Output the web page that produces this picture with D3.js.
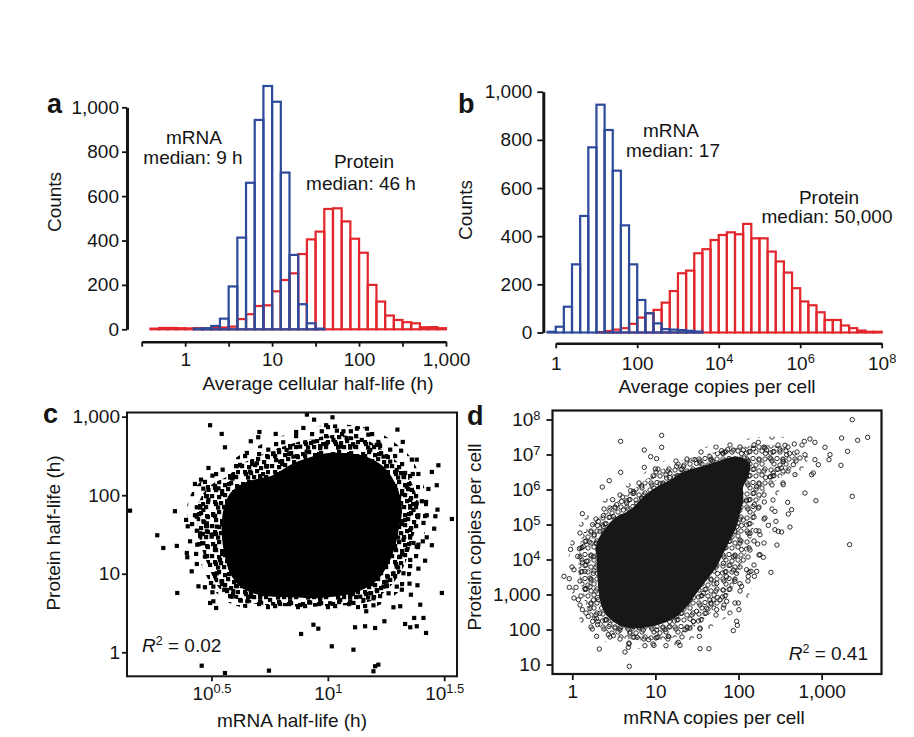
<!DOCTYPE html>
<html>
<head>
<meta charset="utf-8">
<script src="https://cdn.jsdelivr.net/npm/d3@7"></script>
<style>
body { margin: 0; background: #fff; }
</style>
</head>
<body>
<div id="fig"></div>
<script>
// ---- panel a: half-life histograms (bin lower edges in log10 h, width 0.1) ----
var aMrnaEdges = [0.1,0.2,0.3,0.4,0.5,0.6,0.7,0.8,0.9,1.0,1.1,1.2,1.3,1.4,1.5];
var aMrnaCounts = [3,5,15,48,193,413,660,943,1096,1025,706,335,113,27,3];
var aProteinEdges = [-0.4,-0.3,-0.2,-0.1,0,0.1,0.2,0.3,0.4,0.5,0.6,0.7,0.8,0.9,1.0,1.1,1.2,1.3,1.4,1.5,1.6,1.7,1.8,1.9,2.0,2.1,2.2,2.3,2.4,2.5,2.6,2.7,2.8,2.9];
var aProteinCounts = [3,6,6,5,4,5,4,6,8,12,46,68,105,108,171,222,252,339,405,440,542,545,486,408,345,200,125,62,42,32,27,9,10,5];
var aBinWidth = 0.1;

// ---- panel b: copies per cell histograms (bin lower edges in log10, width 0.2) ----
var bMrnaEdges = [-0.2,0,0.2,0.4,0.6,0.8,1.0,1.2,1.4,1.6,1.8,2.0,2.2,2.4,2.6,2.8,3.0,3.2,3.4];
var bMrnaCounts = [3,24,107,283,484,769,946,841,672,445,283,135,80,38,14,12,10,7,4];
var bProteinEdges = [1.0,1.2,1.4,1.6,1.8,2.0,2.2,2.4,2.6,2.8,3.0,3.2,3.4,3.6,3.8,4.0,4.2,4.4,4.6,4.8,5.0,5.2,5.4,5.6,5.8,6.0,6.2,6.4,6.6,6.8,7.0,7.2,7.4,7.6,7.8];
var bProteinCounts = [2,6,12,18,36,62,80,94,124,172,246,257,329,346,384,405,416,408,451,391,391,336,295,249,184,129,113,84,52,52,29,18,8,3,3];
var bBinWidth = 0.2;

// ---- tick labels ----
var countTicks = [0,200,400,600,800,1000];
var aXTickExp = [-0.5,0,0.5,1,1.5,2,2.5,3];
var aXTickLabels = ["","1","","10","","100","","1,000"];
var bXTickExp = [0,2,4,6,8];
var bXTickLabels = [["1",""],["100",""],["10","4"],["10","6"],["10","8"]];
var cYTickExp = [0,1,2,3];
var cYTickLabels = ["1","10","100","1,000"];
var cXTickExp = [0.5,1,1.5];
var cXTickLabels = [["10","0.5"],["10","1"],["10","1.5"]];
var dYTickExp = [1,2,3,4,5,6,7,8];
var dYTickLabels = [["10",""],["100",""],["1,000",""],["10","4"],["10","5"],["10","6"],["10","7"],["10","8"]];
var dXTickExp = [0,1,2,3];
var dXTickLabels = ["1","10","100","1,000"];

// ---- panel c: log10 mRNA half-life vs log10 protein half-life ----
// outlines of the sparse zone, the crowded zone and the solid core
var cOuter = [[0.394,1.812],[0.422,2.067],[0.480,2.236],[0.551,2.364],[0.623,2.512],[0.709,2.640],[0.795,2.746],[0.895,2.831],[0.995,2.894],[1.096,2.894],[1.196,2.831],[1.282,2.682],[1.354,2.491],[1.397,2.236],[1.425,1.982],[1.433,1.727],[1.411,1.472],[1.390,1.218],[1.361,1.006],[1.318,0.815],[1.261,0.666],[1.182,0.560],[1.053,0.530],[0.909,0.517],[0.766,0.530],[0.651,0.560],[0.580,0.624],[0.523,0.751],[0.480,0.963],[0.444,1.218],[0.415,1.515]];
var cHalo = [[0.437,1.812],[0.465,2.024],[0.508,2.152],[0.566,2.236],[0.623,2.385],[0.695,2.491],[0.766,2.576],[0.852,2.661],[0.938,2.725],[1.024,2.767],[1.110,2.746],[1.182,2.682],[1.253,2.534],[1.311,2.385],[1.354,2.194],[1.382,1.982],[1.390,1.770],[1.375,1.557],[1.354,1.345],[1.332,1.133],[1.296,0.942],[1.253,0.793],[1.196,0.666],[1.124,0.615],[1.024,0.590],[0.909,0.581],[0.795,0.590],[0.695,0.615],[0.623,0.666],[0.566,0.730],[0.523,0.857],[0.494,1.048],[0.465,1.260],[0.444,1.515]];
var cCore = [[0.551,1.812],[0.580,2.024],[0.637,2.152],[0.709,2.215],[0.766,2.258],[0.838,2.385],[0.909,2.470],[0.995,2.534],[1.081,2.534],[1.167,2.491],[1.239,2.364],[1.282,2.194],[1.311,1.982],[1.318,1.770],[1.304,1.557],[1.289,1.345],[1.261,1.133],[1.225,0.963],[1.175,0.836],[1.110,0.751],[1.024,0.708],[0.938,0.687],[0.852,0.700],[0.766,0.708],[0.680,0.751],[0.623,0.836],[0.580,1.006],[0.558,1.218],[0.544,1.515]];
var cPoints = [
[0.494,2.891],[0.544,2.780],[0.558,2.610],[0.706,2.805],[0.701,2.738],[0.776,2.780],[0.669,2.687],[0.808,2.674],[0.744,2.580],[0.790,2.572],
[0.652,2.538],[0.487,2.347],[0.548,2.325],[0.590,2.211],[0.504,2.249],[0.429,2.143],[0.455,2.198],[0.472,2.169],[0.465,2.083],[0.515,2.092],
[0.343,1.796],[0.150,1.803],[0.437,1.846],[0.429,1.745],[0.391,1.685],[0.398,1.604],[0.267,1.490],[0.293,1.328],[0.351,1.354],[0.408,1.413],
[0.439,1.370],[0.394,1.264],[0.396,1.210],[0.434,1.252],[0.437,1.124],[0.415,1.031],[0.353,0.755],[0.444,0.840],[0.472,0.828],[0.498,0.882],
[0.504,0.764],[0.544,0.904],[0.555,0.797],[0.508,0.649],[0.494,0.628],[0.520,0.564],[0.458,-0.171],[0.558,-0.264],[0.747,-0.234],[0.626,0.657],
[0.654,0.649],[0.594,0.777],[0.465,1.668],[0.477,1.625],[0.437,1.548],[0.458,1.506],[0.480,1.541],[0.501,1.498],
[0.910,3.026],[0.941,2.962],[1.020,2.992],[0.993,2.891],[0.864,2.805],[0.895,2.856],[0.974,2.814],[1.039,2.822],[1.067,2.814],[1.099,2.814],
[1.125,2.847],[1.168,2.847],[1.174,2.771],[1.299,2.835],[1.217,2.678],[1.222,2.644],[1.322,2.678],[1.268,2.580],[1.315,2.567],[1.361,2.453],
[1.382,2.453],[1.475,2.381],[1.447,2.296],[1.332,2.283],[1.365,2.270],[1.389,2.270],[1.432,2.079],[1.468,2.127],[1.404,1.923],[1.422,1.914],
[1.471,1.816],[1.533,1.697],[1.462,1.732],[1.425,1.745],[1.389,1.745],[1.411,1.647],[1.457,1.574],[1.425,1.464],[1.408,1.413],[1.447,1.363],
[1.368,1.392],[1.389,1.370],[1.418,1.166],[1.389,1.065],[1.490,0.755],[1.385,0.853],[1.351,0.874],[1.357,0.733],[1.318,0.797],[1.397,0.606],
[1.282,0.573],[1.311,0.586],[1.165,0.522],[1.196,0.598],[1.110,0.628],[1.411,0.437],[1.371,0.437],[1.332,0.360],[1.354,0.318],[1.382,0.331],
[1.422,0.246],[1.243,0.395],[1.203,0.309],[1.160,0.331],[1.117,0.318],[0.938,0.351],[0.959,0.301],[0.885,0.233],[1.017,0.076],[1.110,0.033],
[1.203,-0.178],[1.217,-0.158],[1.196,-0.242],
[0.465,1.812],[0.487,1.939],[0.508,1.748],[0.480,1.642],[0.523,1.600],[0.501,1.472],[0.465,1.388],[0.515,1.303],[0.537,1.175],[0.494,1.112],
[0.523,1.006],[0.544,0.899],[0.566,0.793],[0.587,0.708],[0.508,0.836],[0.472,1.218],[0.451,1.515],[0.487,2.067],[0.530,2.088],[0.437,1.727],
[0.594,2.236],[0.623,2.385],[0.666,2.300],[0.695,2.406],[0.737,2.364],[0.766,2.534],[0.795,2.427],[0.823,2.576],[0.852,2.491],[0.881,2.618],
[0.909,2.555],[0.938,2.682],[0.967,2.597],[0.995,2.661],[1.024,2.703],[1.053,2.618],[1.081,2.725],[1.117,2.618],[1.146,2.703],[1.182,2.576],
[1.210,2.640],[1.239,2.491],[1.268,2.427],[1.296,2.321],[1.325,2.236],
[1.339,2.109],[1.354,1.939],[1.368,1.812],[1.332,1.685],[1.354,1.557],[1.325,1.430],[1.339,1.303],[1.311,1.218],[1.296,1.090],[1.282,1.006],
[1.253,0.899],[1.361,2.067],[1.382,1.897],
[0.623,0.666],[0.666,0.708],[0.709,0.645],[0.752,0.666],[0.795,0.615],[0.838,0.645],[0.881,0.602],[0.924,0.632],[0.967,0.666],[1.010,0.624],
[1.053,0.666],[1.096,0.645],[1.139,0.708],[1.182,0.751],[1.210,0.793],[1.239,0.836],[1.268,0.921],[1.153,0.666],[1.196,0.687],[1.261,0.751],
[1.296,0.836],[1.325,1.006],[1.354,1.175],[1.382,1.345]
];

// ---- panel d: log10 mRNA copies vs log10 protein copies ----
var dOuter = [[0.012,4.747],[0.133,5.128],[0.333,5.605],[0.574,5.986],[0.774,6.319],[0.975,6.652],[1.175,6.890],[1.416,7.081],[1.696,7.271],[2.017,7.414],[2.338,7.509],[2.619,7.462],[2.819,7.224],[2.819,6.747],[2.659,6.367],[2.498,5.986],[2.418,5.414],[2.378,4.843],[2.338,4.367],[2.258,3.795],[2.178,3.319],[2.097,2.843],[1.937,2.462],[1.737,2.176],[1.576,1.890],[1.416,1.700],[1.175,1.509],[0.935,1.462],[0.694,1.462],[0.453,1.605],[0.293,1.795],[0.133,2.081],[0.053,2.557],[-0.008,3.129],[-0.048,3.795],[-0.028,4.367]];
var dHalo = [[0.133,4.747],[0.253,5.033],[0.413,5.414],[0.614,5.795],[0.774,6.081],[0.935,6.367],[1.135,6.652],[1.336,6.843],[1.576,6.986],[1.817,7.128],[2.057,7.224],[2.298,7.271],[2.538,7.224],[2.699,7.033],[2.659,6.652],[2.458,6.271],[2.298,5.890],[2.218,5.414],[2.178,4.938],[2.138,4.462],[2.057,3.986],[1.977,3.509],[1.897,3.033],[1.737,2.652],[1.576,2.271],[1.416,1.986],[1.255,1.795],[1.015,1.700],[0.774,1.700],[0.534,1.795],[0.373,1.986],[0.253,2.271],[0.173,2.652],[0.113,3.224],[0.073,3.795],[0.093,4.367]];
var dCore = [[0.293,4.462],[0.413,4.938],[0.534,5.224],[0.694,5.414],[0.854,5.795],[1.015,6.081],[1.175,6.271],[1.336,6.509],[1.536,6.652],[1.737,6.795],[1.937,6.938],[2.057,6.890],[2.138,6.747],[2.117,6.367],[2.057,6.081],[2.057,5.700],[2.017,5.319],[1.977,4.938],[1.897,4.557],[1.817,4.176],[1.737,3.795],[1.616,3.414],[1.496,3.033],[1.376,2.652],[1.255,2.367],[1.095,2.176],[0.935,2.081],[0.774,2.033],[0.614,2.081],[0.494,2.224],[0.393,2.462],[0.333,2.843],[0.305,3.414],[0.293,3.986]];
var dPoints = [
[1.075,7.547],[0.582,7.376],[1.075,7.205],[0.866,7.128],[0.943,6.938],[1.015,6.881],[0.866,6.633],[0.999,6.586],[1.007,6.500],[0.582,6.490],
[1.255,6.662],[0.445,6.252],[0.361,6.071],[0.606,5.786],[0.702,5.967],[0.834,6.100],[0.486,5.709],[0.121,5.309],[0.245,4.995],[0.313,5.090],
[0.373,5.252],[-0.020,4.290],[0.085,4.309],[0.133,4.376],[0.205,4.500],[0.065,4.090],[0.121,3.919],[-0.100,3.519],[-0.036,3.452],[0.020,3.709],
[0.045,3.205],[-0.036,3.205],[0.153,3.167],[0.213,3.471],[0.020,2.900],[0.073,2.852],[0.121,2.567],[0.213,2.595],[0.193,2.376],[0.245,2.233],
[0.293,2.309],[0.241,2.014],[0.305,2.138],[0.293,1.805],[0.325,1.443],[0.433,1.852],[0.494,1.824],[0.634,1.357],[0.682,1.614],[0.674,1.490],
[0.686,0.947],[0.874,1.538],[0.983,1.547],[1.127,1.538],[0.919,1.709],[1.007,1.757],[1.275,1.633],[1.296,1.547],[1.155,1.805],[1.356,1.995],
[1.416,2.043],[1.536,2.043],[1.528,1.805],[1.536,1.452],[1.644,1.452],[1.115,1.995],[0.782,1.776],[0.726,2.043],[0.574,2.043],[0.453,2.138],
[0.353,2.614],[0.313,2.852],[0.153,3.662],[0.173,3.947],[0.265,4.709],[0.333,4.805],[0.453,5.471],[0.534,5.567],[0.654,5.614],[0.734,5.947],
[0.834,5.757],[1.135,6.328],[1.255,6.138],[1.336,6.471],[1.476,6.852],[1.536,6.757],[1.688,6.805],[1.616,2.614],[1.737,2.567],[1.696,2.852],
[1.496,2.519],[1.456,2.233],
[3.368,7.995],[3.240,7.471],[3.433,7.405],[3.553,7.490],[3.312,7.090],[3.232,6.690],[3.368,5.805],[3.336,4.424],[2.799,5.900],[2.931,5.681],
[2.671,7.300],[2.791,7.376],[2.859,7.443],[2.919,7.347],[3.040,7.205],[3.100,6.995],[3.088,6.852],[2.919,6.852],[2.960,6.709],[2.899,6.471],
[2.879,6.424],[2.799,6.995],[2.739,6.900],[2.659,6.709],[2.679,6.424],[2.559,7.262],[2.579,6.995],[2.518,6.614],[2.538,6.138],[2.378,6.900],
[2.418,6.471],[2.238,7.347],[2.318,7.186],[1.797,7.109],[1.869,7.138],[2.069,6.900],[2.117,6.805],[2.591,5.633],[2.639,5.424],[2.599,5.300],
[2.450,5.090],[2.518,4.786],[2.619,4.928],[2.462,4.414],[2.230,4.443],[2.258,4.138],[2.298,4.062],[2.390,3.633],[2.097,3.709],[2.150,3.662],
[2.218,3.662],[2.117,3.519],[2.190,3.519],[1.997,2.757],[2.005,2.567],[1.977,2.233],[1.985,2.119],[1.937,1.967],[1.857,2.805],[1.817,2.614],
[1.777,2.852],[1.957,3.376],[2.017,3.309],[2.037,3.233],[2.358,4.976],[2.318,5.186],[2.438,5.376],[2.438,4.852],[2.478,4.805],[2.210,4.824],
[2.258,4.709],[2.190,5.567],[2.238,5.471],[2.310,5.643],
[1.576,4.557],[1.656,4.271],[1.737,4.557],[1.817,4.367],[1.897,4.652],[1.977,4.938],[2.057,5.128],[2.017,4.557],[1.937,4.081],[1.817,3.890],
[1.696,3.795],[1.616,3.509],[1.737,3.319],[1.857,3.509],[1.576,3.033],[1.656,2.843],[1.496,3.224],[1.817,3.128],[1.937,3.700],[2.138,4.747],
[2.138,4.271],[2.057,3.986],[1.977,3.605],[1.336,2.652],[1.416,2.843],[1.255,2.367],[1.175,2.081],[1.015,1.986],[0.854,1.986],[0.694,1.890],
[0.574,1.986],[0.413,2.271],[0.333,2.462],[0.253,2.843],[0.213,3.224],[0.253,3.605],[0.253,4.081],[0.293,4.462],[0.373,4.938],[0.494,5.224],
[0.614,5.414],[0.774,5.605],[0.935,5.986],[1.055,6.176],[1.175,6.462],[1.336,6.652],[1.496,6.747],[1.656,6.938],[1.817,7.033],[1.937,7.128],
[2.057,7.128],[2.178,7.176],[2.338,7.128],[2.497,7.128],[2.538,6.795],[2.378,6.367],[2.218,6.081],[2.097,5.700],[2.017,5.414]
];

var FONT = "'Liberation Sans', Arial, Helvetica, sans-serif";
var BLUE = "#2d4a9b";
var RED = "#e2262c";
var INK = "#141414";
var FS = 19;

var svg = d3.select("#fig").append("svg")
  .attr("width", 914)
  .attr("height", 737)
  .style("font-family", FONT);

// speckle textures for the crowded zones of the two scatter plots
var defs = svg.append("defs");
function squarePattern(id, spots) {
  var p = defs.append("pattern").attr("id", id)
    .attr("patternUnits", "userSpaceOnUse").attr("width", 30).attr("height", 30);
  spots.forEach(function(s) {
    p.append("rect").attr("x", s[0]).attr("y", s[1]).attr("width", 4.2).attr("height", 4.2).attr("fill", "#000");
  });
}
function circlePattern(id, spots) {
  var p = defs.append("pattern").attr("id", id)
    .attr("patternUnits", "userSpaceOnUse").attr("width", 24).attr("height", 24);
  spots.forEach(function(s) {
    p.append("circle").attr("cx", s[0]).attr("cy", s[1]).attr("r", 2.2)
      .attr("fill", "none").attr("stroke", "#181818").attr("stroke-width", 0.9);
  });
}
squarePattern("sqDense", [[1,2],[7,0],[13,3],[19,1],[25,4],[4,8],[10,9],[16,7],[22,10],[0,14],[7,15],[13,13],[19,16],[25,14],[3,20],[9,21],[15,19],[21,22],[26,20],[6,25.5],[12,25],[18,25.5],[24,25]]);
squarePattern("sqSparse", [[3,4],[17,2],[10,12],[24,14],[4,22],[18,24],[26,5]]);
circlePattern("ciDense", [[3,3],[9,2.5],[15,4],[21,3],[6,8],[12,9],[18,8],[3,14],[9,13.5],[15,15],[21,13],[6,19.5],[12,20],[18,19],[21.5,21.5],[2.5,21]]);
circlePattern("ciSparse", [[4,5],[15,3],[10,13],[20,15],[5,20]]);

function pow10(v) { return Math.pow(10, v); }

function styleAxis(g, domainWidth) {
  g.attr("font-family", FONT).attr("font-size", FS);
  g.select(".domain").attr("stroke", INK).attr("stroke-width", domainWidth);
  g.selectAll(".tick line").attr("stroke", INK).attr("stroke-width", 1.8);
  g.selectAll(".tick text").attr("fill", INK);
}

// labels with optional superscript
function supLabels(g, labels) {
  g.selectAll(".tick text").each(function(d, i) {
    var t = d3.select(this);
    var lab = labels[i];
    t.text(null);
    t.append("tspan").text(lab[0]);
    if (lab[1]) {
      t.append("tspan").attr("dy", "-0.5em").attr("font-size", "0.68em").text(lab[1]);
    }
  });
}

function drawHist(edges, counts, binW, x, y, color) {
  svg.append("g").selectAll("rect")
    .data(counts)
    .enter()
    .append("rect")
    .attr("x", function(d, i) { return x(pow10(edges[i])); })
    .attr("width", function(d, i) { return x(pow10(edges[i] + binW)) - x(pow10(edges[i])); })
    .attr("y", function(d) { return y(d); })
    .attr("height", function(d) { return y(0) - y(d); })
    .attr("fill", "none")
    .attr("stroke", color)
    .attr("stroke-width", 2.2);
}

function blob(outline, x, y, fill) {
  svg.append("path")
    .datum(outline)
    .attr("d", d3.line()
      .x(function(d) { return x(pow10(d[0])); })
      .y(function(d) { return y(pow10(d[1])); })
      .curve(d3.curveCatmullRomClosed.alpha(0.5)))
    .attr("fill", fill);
}

function addText(x, y, str, anchor, size, weight) {
  return svg.append("text")
    .attr("x", x).attr("y", y)
    .attr("text-anchor", anchor || "middle")
    .attr("font-size", size || FS)
    .attr("font-weight", weight || "normal")
    .attr("fill", INK)
    .text(str);
}

function yTitle(x, y, str) {
  svg.append("text")
    .attr("transform", "translate(" + x + "," + y + ")rotate(-90)")
    .attr("text-anchor", "middle")
    .attr("font-size", FS)
    .attr("fill", INK)
    .text(str);
}

// ================= panel a =================
var xA = d3.scaleLog().domain([pow10(-0.5), 1000]).range([141.7, 446]);
var yA = d3.scaleLinear().domain([0, 1000]).range([329.3, 107.3]);

drawHist(aProteinEdges, aProteinCounts, aBinWidth, xA, yA, RED);
drawHist(aMrnaEdges, aMrnaCounts, aBinWidth, xA, yA, BLUE);

var gAy = svg.append("g").attr("transform", "translate(127,0)")
  .call(d3.axisLeft(yA).tickValues(countTicks).tickSize(5).tickSizeOuter(0).tickPadding(3).tickFormat(d3.format(",")));
styleAxis(gAy, 3);
var gAx = svg.append("g").attr("transform", "translate(0,341.7)")
  .call(d3.axisBottom(xA).tickValues(aXTickExp.map(pow10)).tickSize(5).tickSizeOuter(0).tickPadding(6)
    .tickFormat(function(d, i) { return aXTickLabels[i]; }));
styleAxis(gAx, 2.6);

addText(47, 113, "a", "start", 27, "bold");
yTitle(61, 202, "Counts");
addText(318, 390, "Average cellular half-life (h)");
addText(194, 144, "mRNA");
addText(193, 164, "median: 9 h");
addText(364, 168, "Protein");
addText(361, 190, "median: 46 h");

// ================= panel b =================
var xB = d3.scaleLog().domain([1, 1e8]).range([555.7, 881.7]);
var yB = d3.scaleLinear().domain([0, 1000]).range([332.5, 91.7]);

drawHist(bProteinEdges, bProteinCounts, bBinWidth, xB, yB, RED);
drawHist(bMrnaEdges, bMrnaCounts, bBinWidth, xB, yB, BLUE);

var gBy = svg.append("g").attr("transform", "translate(543.3,0)")
  .call(d3.axisLeft(yB).tickValues(countTicks).tickSize(6).tickSizeOuter(0).tickPadding(5).tickFormat(d3.format(",")));
styleAxis(gBy, 3);
var gBx = svg.append("g").attr("transform", "translate(0,343.3)")
  .call(d3.axisBottom(xB).tickValues(bXTickExp.map(pow10)).tickSize(5).tickSizeOuter(0).tickPadding(8));
styleAxis(gBx, 2.6);
supLabels(gBx, bXTickLabels);

addText(458, 113, "b", "start", 27, "bold");
yTitle(472, 210, "Counts");
addText(717, 393, "Average copies per cell");
addText(671, 137, "mRNA");
addText(673, 157, "median: 17");
addText(829, 204, "Protein");
addText(827, 223, "median: 50,000");

// ================= panel c =================
var xC = d3.scaleLog().domain([pow10(0.137), pow10(1.555)]).range([127, 457]);
var yC = d3.scaleLog().domain([pow10(-0.306), pow10(3.053)]).range([676.3, 412.5]);

blob(cOuter, xC, yC, "url(#sqSparse)");
blob(cHalo, xC, yC, "url(#sqDense)");
blob(cCore, xC, yC, "#000");

svg.append("g").selectAll("rect")
  .data(cPoints)
  .enter()
  .append("rect")
  .attr("x", function(d) { return xC(pow10(d[0])) - 2.1; })
  .attr("y", function(d) { return yC(pow10(d[1])) - 2.1; })
  .attr("width", 4.2)
  .attr("height", 4.2)
  .attr("fill", "#000");

svg.append("rect")
  .attr("x", 127).attr("y", 412.5)
  .attr("width", 330).attr("height", 263.8)
  .attr("fill", "none").attr("stroke", INK).attr("stroke-width", 2);

var gCy = svg.append("g").attr("transform", "translate(127,0)")
  .call(d3.axisLeft(yC).tickValues(cYTickExp.map(pow10)).tickSize(5).tickPadding(2)
    .tickFormat(function(d, i) { return cYTickLabels[i]; }));
styleAxis(gCy, 0);
gCy.select(".domain").remove();
var gCx = svg.append("g").attr("transform", "translate(0,676.3)")
  .call(d3.axisBottom(xC).tickValues(cXTickExp.map(pow10)).tickSize(5).tickPadding(5));
styleAxis(gCx, 0);
gCx.select(".domain").remove();
supLabels(gCx, cXTickLabels);

addText(43, 423, "c", "start", 27, "bold");
yTitle(60, 533, "Protein half-life (h)");
addText(292, 727, "mRNA half-life (h)");
var rc = svg.append("text").attr("x", 142).attr("y", 652).attr("font-size", FS).attr("fill", INK);
rc.append("tspan").attr("font-style", "italic").text("R");
rc.append("tspan").attr("dy", -7).attr("font-size", 12.5).text("2");
rc.append("tspan").attr("dy", 7).text(" = 0.02");

// ================= panel d =================
var xD = d3.scaleLog().domain([pow10(-0.238), pow10(3.72)]).range([552.5, 881.5]);
var yD = d3.scaleLog().domain([pow10(0.729), pow10(8.257)]).range([674, 410.5]);

blob(dOuter, xD, yD, "url(#ciSparse)");
blob(dHalo, xD, yD, "url(#ciDense)");
blob(dCore, xD, yD, "#171717");

svg.append("g").selectAll("circle")
  .data(dPoints)
  .enter()
  .append("circle")
  .attr("cx", function(d) { return xD(pow10(d[0])); })
  .attr("cy", function(d) { return yD(pow10(d[1])); })
  .attr("r", 2.2)
  .attr("fill", "none")
  .attr("stroke", "#181818")
  .attr("stroke-width", 0.9);

svg.append("rect")
  .attr("x", 552.5).attr("y", 410.5)
  .attr("width", 329).attr("height", 263.5)
  .attr("fill", "none").attr("stroke", INK).attr("stroke-width", 2.2);

var gDy = svg.append("g").attr("transform", "translate(552.5,0)")
  .call(d3.axisLeft(yD).tickValues(dYTickExp.map(pow10)).tickSize(6).tickPadding(6));
styleAxis(gDy, 0);
gDy.select(".domain").remove();
supLabels(gDy, dYTickLabels);
var gDx = svg.append("g").attr("transform", "translate(0,674)")
  .call(d3.axisBottom(xD).tickValues(dXTickExp.map(pow10)).tickSize(6).tickPadding(5)
    .tickFormat(function(d, i) { return dXTickLabels[i]; }));
styleAxis(gDx, 0);
gDx.select(".domain").remove();

addText(467, 425, "d", "start", 27, "bold");
yTitle(481, 537, "Protein copies per cell");
addText(714, 724, "mRNA copies per cell");
var rd = svg.append("text").attr("x", 868).attr("y", 660).attr("text-anchor", "end").attr("font-size", FS).attr("fill", INK);
rd.append("tspan").attr("font-style", "italic").text("R");
rd.append("tspan").attr("dy", -7).attr("font-size", 12.5).text("2");
rd.append("tspan").attr("dy", 7).text(" = 0.41");
</script>
</body>
</html>
